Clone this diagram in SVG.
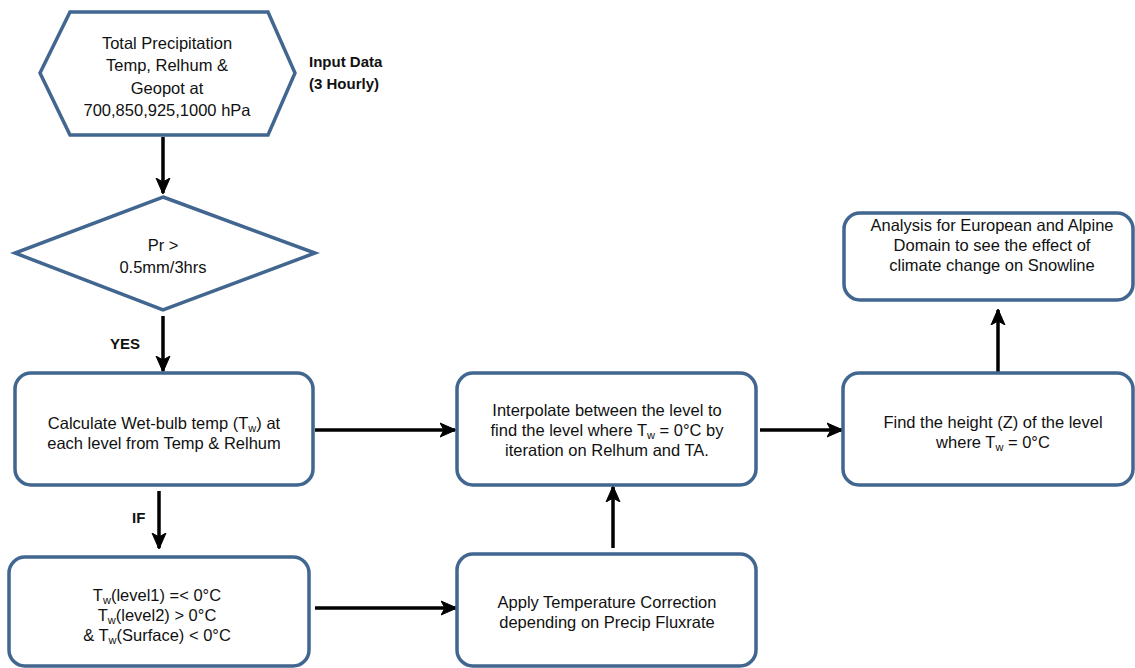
<svg xmlns="http://www.w3.org/2000/svg" width="1135" height="668" viewBox="0 0 1135 668">
<defs>
<style>
.node{fill:#fff;stroke:#41668f;stroke-width:3.5;}
.t{font-family:"Liberation Sans",Arial,sans-serif;font-size:16.5px;fill:#111;text-anchor:middle;}
.b{font-family:"Liberation Sans",Arial,sans-serif;font-size:15px;font-weight:bold;fill:#111;}
.sub{font-size:11px;}
.c{stroke:#000;stroke-width:3.5;fill:none;}
</style>
<marker id="ah" markerUnits="userSpaceOnUse" markerWidth="18" markerHeight="18" refX="15" refY="8" orient="auto" viewBox="0 0 18 16">
<path d="M0,1 L16,8 L0,15 L4,8 Z" fill="#000" stroke="#000" stroke-width="1" stroke-linejoin="round"/>
</marker>
</defs>
<rect width="1135" height="668" fill="#fff"/>
<g id="connectors">
<line class="c" x1="163" y1="137" x2="163" y2="193" marker-end="url(#ah)"/>
<line class="c" x1="163" y1="316" x2="163" y2="371" marker-end="url(#ah)"/>
<line class="c" x1="159" y1="491" x2="159" y2="548" marker-end="url(#ah)"/>
<line class="c" x1="315" y1="430" x2="455" y2="430" marker-end="url(#ah)"/>
<line class="c" x1="760" y1="430" x2="842" y2="430" marker-end="url(#ah)"/>
<line class="c" x1="315" y1="608" x2="456" y2="608" marker-end="url(#ah)"/>
<line class="c" x1="613" y1="548" x2="613" y2="487" marker-end="url(#ah)"/>
<line class="c" x1="998" y1="372" x2="998" y2="310" marker-end="url(#ah)"/>
</g>
<g id="input">
<polygon class="node" points="70,12 268,12 295,73 268,135 70,135 40,73"/>
<text class="t" x="167" y="49">Total  Precipitation</text>
<text class="t" x="167" y="71">Temp, Relhum &amp;</text>
<text class="t" x="167" y="94">Geopot  at</text>
<text class="t" x="167" y="116">700,850,925,1000 hPa</text>
<text class="b" x="309" y="67">Input Data</text>
<text class="b" x="309" y="89">(3 Hourly)</text>
</g>
<g id="decision">
<polygon class="node" points="163,197 315,253 163,310 15,253"/>
<text class="t" x="163" y="251">Pr &gt;</text>
<text class="t" x="163" y="273">0.5mm/3hrs</text>
<text class="b" x="110" y="349">YES</text>
</g>
<g id="calc">
<rect class="node" x="15" y="373" width="298" height="112" rx="16"/>
<text class="t" x="164" y="429">Calculate Wet-bulb temp (T<tspan class="sub" dy="3">w</tspan><tspan dy="-3">) at</tspan></text>
<text class="t" x="164" y="449">each level from Temp &amp; Relhum</text>
<text class="b" x="132" y="523">IF</text>
</g>
<g id="cond">
<rect class="node" x="9" y="557" width="300" height="109" rx="16"/>
<text class="t" x="157" y="601">T<tspan class="sub" dy="3">w</tspan><tspan dy="-3">(level1) =&lt; 0°C</tspan></text>
<text class="t" x="157" y="621">T<tspan class="sub" dy="3">w</tspan><tspan dy="-3">(level2) &gt;  0°C</tspan></text>
<text class="t" x="157" y="641">&amp; T<tspan class="sub" dy="3">w</tspan><tspan dy="-3">(Surface) &lt; 0°C</tspan></text>
</g>
<g id="interp">
<rect class="node" x="457" y="373" width="299" height="112" rx="16"/>
<text class="t" x="607" y="416">Interpolate between the level to</text>
<text class="t" x="607" y="436">find the level where T<tspan class="sub" dy="3">w</tspan><tspan dy="-3"> = 0°C by</tspan></text>
<text class="t" x="607" y="456">iteration on Relhum and TA.</text>
</g>
<g id="apply">
<rect class="node" x="457" y="554" width="299" height="112" rx="16"/>
<text class="t" x="607" y="608">Apply Temperature Correction</text>
<text class="t" x="607" y="628">depending on Precip Fluxrate</text>
</g>
<g id="find">
<rect class="node" x="843" y="373" width="290" height="112" rx="16"/>
<text class="t" x="993" y="428">Find the height (Z) of the level</text>
<text class="t" x="993" y="448">where T<tspan class="sub" dy="3">w</tspan><tspan dy="-3"> = 0°C</tspan></text>
</g>
<g id="analysis">
<rect class="node" x="844" y="213" width="289" height="87" rx="16"/>
<text class="t" x="992" y="231">Analysis for European and Alpine</text>
<text class="t" x="992" y="251">Domain to see the effect of</text>
<text class="t" x="992" y="271">climate change on Snowline</text>
</g>
</svg>
